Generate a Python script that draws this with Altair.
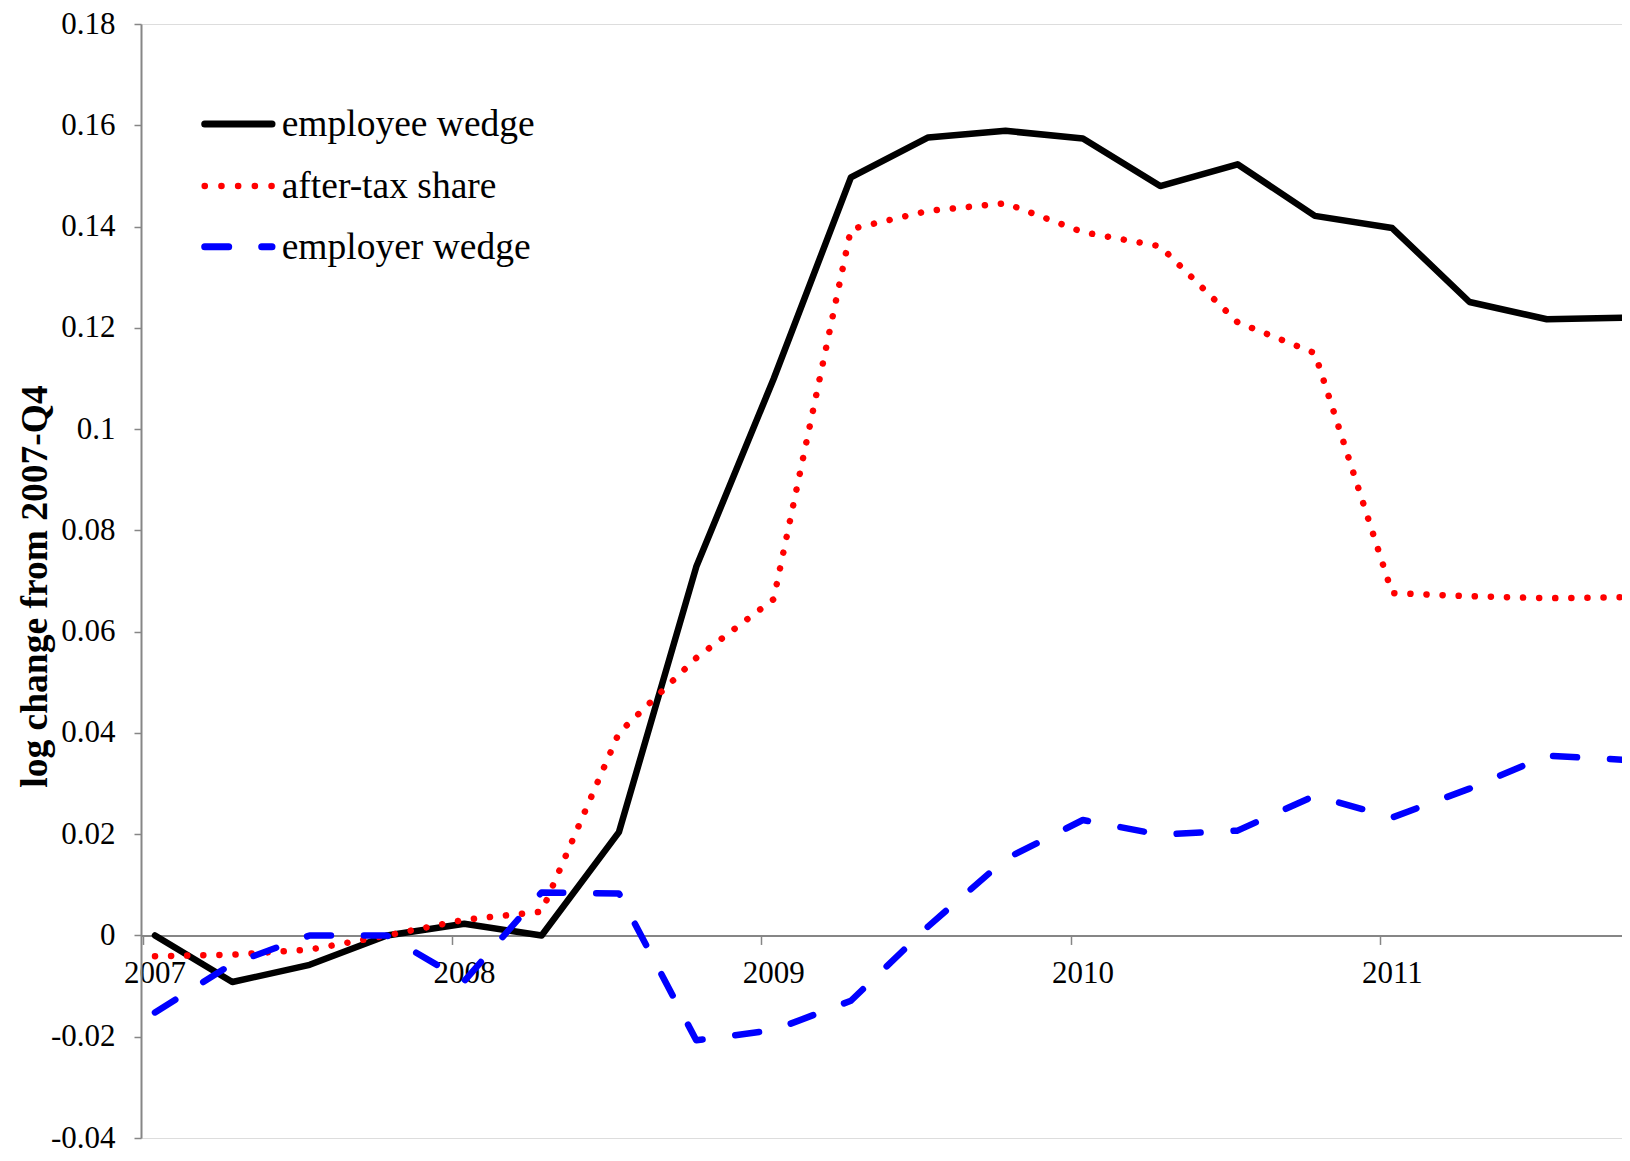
import altair as alt
import pandas as pd

# ---------------- data ----------------
quarters = [f"{y}-Q{q}" for y in range(2007, 2012) for q in range(1, 5)]

employee_wedge = [0.0000, -0.0092, -0.0058, 0.0000, 0.0023, 0.0000, 0.0204, 0.0728,
                  0.1099, 0.1497, 0.1576, 0.1589, 0.1574, 0.1480, 0.1523, 0.1421,
                  0.1397, 0.1251, 0.1217, 0.1220]
after_tax_share = [-0.0041, -0.0038, -0.0028, 0.0000, 0.0031, 0.0047, 0.0400, 0.0548,
                   0.0664, 0.1395, 0.1431, 0.1446, 0.1389, 0.1361, 0.1211, 0.1150,
                   0.0676, 0.0670, 0.0666, 0.0668]
employer_wedge = [-0.0152, -0.0056, 0.0000, 0.0000, -0.0090, 0.0085, 0.0083, -0.0207,
                  -0.0187, -0.0129, 0.0018, 0.0151, 0.0228, 0.0199, 0.0207, 0.0276,
                  0.0233, 0.0290, 0.0355, 0.0347]

series_names = ["employee wedge", "after-tax share", "employer wedge"]
year_ticks = [2007, 2008, 2009, 2010, 2011]
y_ticks = [-0.04, -0.02, 0, 0.02, 0.04, 0.06, 0.08, 0.10, 0.12, 0.14, 0.16, 0.18]


def qpos(label):
    y, q = label.split("-Q")
    return int(y) + (int(q) - 1) / 4 + 0.04


df = pd.DataFrame({
    "quarter": quarters,
    "t": [qpos(q) for q in quarters],
    "employee": employee_wedge,
    "aftertax": after_tax_share,
    "employer": employer_wedge,
})

FONT = "Liberation Serif"
GRAY = "#868686"
PAD_TOP = 16
PLOT_W = 1481
PLOT_H = 1114
Y_DOM = [-0.04, 0.18]
zero_offset = PLOT_H * (0 - Y_DOM[0]) / (Y_DOM[1] - Y_DOM[0])

x_enc = alt.X(
    "t:Q",
    scale=alt.Scale(domain=[2006.9948, 2011.783], nice=False, zero=False),
    axis=alt.Axis(
        values=year_ticks, format="d", title=None, grid=False,
        offset=-zero_offset, domainColor=GRAY, domainWidth=2,
        tickColor=GRAY, tickWidth=1.5, tickSize=9,
        labelFont=FONT, labelFontSize=31, labelColor="#000000",
        labelBaseline="alphabetic", labelPadding=38, labelOffset=12,
        labelFlush=False, labelOverlap=False,
    ),
)

y_axis = alt.Axis(
    values=y_ticks, grid=False,
    labelExpr="toString(round(datum.value*100)/100)",
    domainColor=GRAY, domainWidth=2, tickColor=GRAY, tickWidth=1.5, tickSize=7,
    labelFont=FONT, labelFontSize=31, labelColor="#000000", labelPadding=19,
    labelBaseline="middle", labelFlush=False, labelOverlap=False,
    title="log change from 2007-Q4", titleFont=FONT, titleFontSize=37.5,
    titleFontWeight="bold", titleColor="#000000", titleAngle=270,
    titleX=-106, titleY=562, titleAlign="center", titleBaseline="middle",
)

base = alt.Chart(df)

emp = base.mark_line(stroke="#000000", strokeWidth=6.5, strokeCap="round",
                     strokeJoin="round").encode(
    x=x_enc,
    y=alt.Y("employee:Q", scale=alt.Scale(domain=Y_DOM, nice=False), axis=y_axis),
)
ats = base.mark_line(stroke="#FF0000", strokeWidth=6.5, strokeCap="round",
                     strokeJoin="round", strokeDash=[0.1, 16]).encode(
    x="t:Q", y="aftertax:Q",
)
er = base.mark_line(stroke="#0000FF", strokeWidth=6.5, strokeCap="round",
                    strokeJoin="round", strokeDash=[24, 33]).encode(
    x="t:Q", y="employer:Q",
)

# ---------------- manual legend ----------------
leg_rows = [124 - 8 - PAD_TOP, 186 - 8 - PAD_TOP, 246.7 - 8 - PAD_TOP]
leg_styles = [
    dict(stroke="#000000", strokeWidth=7, strokeCap="round"),
    dict(stroke="#FF0000", strokeWidth=6.5, strokeCap="round", strokeDash=[0.1, 16.6]),
    dict(stroke="#0000FF", strokeWidth=7, strokeCap="round", strokeDash=[24, 33]),
]
leg_layers = []
one = pd.DataFrame({"k": [0]})
for name, yy, st in zip(series_names, leg_rows, leg_styles):
    leg_layers.append(
        alt.Chart(one).mark_rule(**st).encode(
            x=alt.value(63.7), x2=alt.value(131), y=alt.value(yy)
        )
    )
    leg_layers.append(
        alt.Chart(one).mark_text(
            text=name, font=FONT, fontSize=37.5, color="#000000",
            align="left", baseline="alphabetic",
        ).encode(x=alt.value(140.7), y=alt.value(yy + 12))
    )

chart = alt.layer(emp, ats, er, *leg_layers).properties(
    width=PLOT_W, height=PLOT_H,
    padding={"left": 133, "top": PAD_TOP, "right": 0, "bottom": 15},
    autosize=alt.AutoSizeParams(type="none"),
).configure_view(stroke=None).configure(background="#ffffff")

chart.save("out.html", embed_options={"renderer": "svg", "actions": False})
